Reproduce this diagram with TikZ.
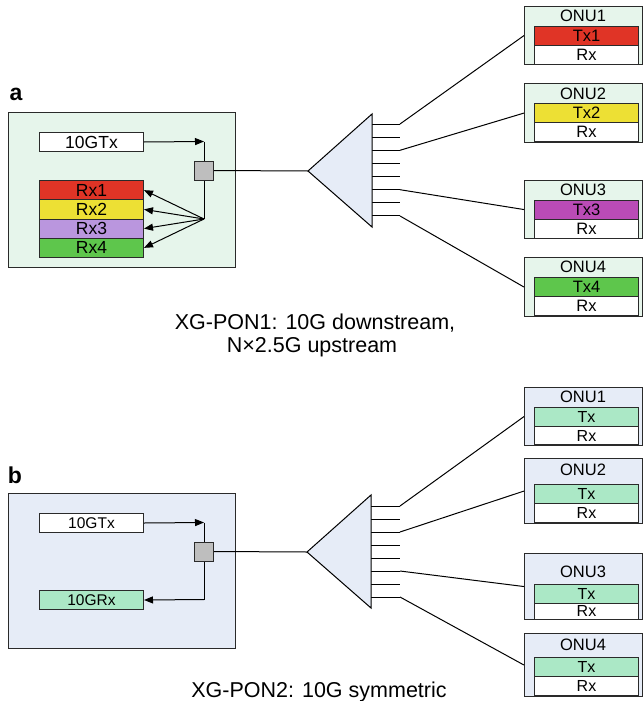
\documentclass[tikz,border=0pt]{standalone}
\usepackage{fontspec}
\setmainfont{Liberation Sans}
\usetikzlibrary{arrows.meta}
\definecolor{olta}{HTML}{E6F5EB}
\definecolor{oltb}{HTML}{E6ECF7}
\definecolor{edge}{HTML}{2A2A2A}
\definecolor{cred}{HTML}{E03426}
\definecolor{cyel}{HTML}{EDE034}
\definecolor{clav}{HTML}{BA96DE}
\definecolor{cgrn}{HTML}{5EC64C}
\definecolor{cmag}{HTML}{BA4BB6}
\definecolor{cmint}{HTML}{ABE8C6}
\definecolor{cgray}{HTML}{BEBEBE}
\tikzset{
  x=1pt, y=-1pt,
  ln/.style={line width=1pt, draw=black},
  arr/.style={ln, -{Triangle[length=9pt,width=7pt]}},
  bigbox/.style={draw=edge, line width=1.1pt, anchor=north west, inner sep=0pt},
  cell/.style={draw=edge, line width=1pt, anchor=north west, inner sep=0pt, minimum width=104pt,
     font=\fontsize{17.5}{18}\selectfont},
  cellb/.style={cell, font=\fontsize{15.5}{17}\selectfont},
  onubox/.style={draw=edge, line width=1.1pt, anchor=north west, inner sep=0pt, minimum width=118pt},
  onulab/.style={font=\fontsize{16.5}{18}\selectfont, inner sep=0pt},
  onucell/.style={cell, font=\fontsize{16.5}{18}\selectfont},
  onucellb/.style={cell, font=\fontsize{16}{17}\selectfont},
  sq/.style={draw=edge, line width=1pt, fill=cgray, minimum size=19pt, inner sep=0pt},
  split/.style={draw=black, line width=1pt, fill=oltb},
  captext/.style={font=\fontsize{21.5}{24}\selectfont, anchor=base, inner sep=0pt},
  plab/.style={font=\fontsize{23}{24}\selectfont\bfseries, anchor=base, inner sep=0pt},
}
\begin{document}
\begin{tikzpicture}
\useasboundingbox (0,0) rectangle (643,701);
% ================= panel a =================
\node[plab] (la) at (16,100) {a};
\node[bigbox, fill=olta, minimum width=227pt, minimum height=155pt] (olta) at (8,112) {};
\node[cell, fill=white, minimum height=19pt] (gtxa) at (39,132) {10GTx};
\node[cell, fill=cred, minimum height=19.25pt] (rx1) at (39,180) {Rx1};
\node[cell, fill=cyel, minimum height=19.25pt] (rx2) at (39,199.25) {Rx2};
\node[cell, fill=clav, minimum height=19.25pt] (rx3) at (39,218.5) {Rx3};
\node[cell, fill=cgrn, minimum height=19.25pt] (rx4) at (39,237.75) {Rx4};
\coordinate (ca) at (204,141.5);
\coordinate (fa) at (204,219);
\draw[ln] (ca) -- (fa);
\node[sq] (sqa) at (204,170.5) {};
\draw[arr] (gtxa.east) -- (ca);
\foreach \r in {rx1,rx2,rx3,rx4} \draw[arr] (fa) -- (\r.east);
% splitter a
\coordinate (tipa) at (308,171);
\coordinate (ta) at (372,114);
\coordinate (ba) at (372,227);
\draw[ln] (sqa.east) -- (tipa);
\foreach \i in {0,...,7} {
  \coordinate (sa\i) at (400,124+13.14*\i);
  \draw[ln] (372,124+13.14*\i) -- (sa\i);
}
\draw[split] (tipa) -- (ta) -- (ba) -- cycle;
% ONUs a
\node[onubox, fill=olta, minimum height=58pt] (oa1) at (524,6) {};
\node[onulab] (oa1l) at (583,16) {ONU1};
\node[onucell, fill=cred, minimum height=19pt] (oa1t) at (534,26) {Tx1};
\node[onucell, fill=white, minimum height=19pt] (oa1r) at (534,45) {Rx};
\node[onubox, fill=olta, minimum height=59pt] (oa2) at (524,83) {};
\node[onulab] (oa2l) at (583,94) {ONU2};
\node[onucell, fill=cyel, minimum height=19pt] (oa2t) at (534,103) {Tx2};
\node[onucell, fill=white, minimum height=19pt] (oa2r) at (534,122) {Rx};
\node[onubox, fill=olta, minimum height=58pt] (oa3) at (524,180) {};
\node[onulab] (oa3l) at (583,190) {ONU3};
\node[onucell, fill=cmag, minimum height=19.5pt] (oa3t) at (534,199.5) {Tx3};
\node[onucell, fill=white, minimum height=19pt] (oa3r) at (534,219) {Rx};
\node[onubox, fill=olta, minimum height=59pt] (oa4) at (524,257) {};
\node[onulab] (oa4l) at (583,267) {ONU4};
\node[onucell, fill=cgrn, minimum height=19pt] (oa4t) at (534,277) {Tx4};
\node[onucell, fill=white, minimum height=19pt] (oa4r) at (534,296) {Rx};
\draw[ln] (sa0) -- (oa1.west);
\draw[ln] (sa2) -- (oa2.west);
\draw[ln] (sa5) -- (oa3.west);
\draw[ln] (sa7) -- (oa4.west);
\node[captext] (capa1) at (315,329) {XG-PON1: 10G downstream,};
\node[captext] (capa2) at (312,352) {N×2.5G upstream};
% ================= panel b =================
\node[plab] (lb) at (15,483) {b};
\node[bigbox, fill=oltb, minimum width=227pt, minimum height=155pt] (oltb) at (8,493) {};
\node[cellb, fill=white, minimum height=19pt] (gtxb) at (39,513) {10GTx};
\node[cellb, fill=cmint, minimum height=19pt] (grxb) at (39,590) {10GRx};
\coordinate (cb) at (204,522.5);
\coordinate (fb) at (204,599.5);
\draw[ln] (cb) -- (fb);
\node[sq] (sqb) at (204,551.5) {};
\draw[arr] (gtxb.east) -- (cb);
\draw[arr] (fb) -- (grxb.east);
% splitter b
\coordinate (tipb) at (307,552);
\coordinate (tb) at (371,495);
\coordinate (bb) at (371,608);
\draw[ln] (sqb.east) -- (tipb);
\foreach \i in {0,...,7} {
  \coordinate (sb\i) at (400,506+13*\i);
  \draw[ln] (371,506+13*\i) -- (sb\i);
}
\draw[split] (tipb) -- (tb) -- (bb) -- cycle;
% ONUs b
\node[onubox, fill=oltb, minimum height=58pt] (ob1) at (524,387) {};
\node[onulab] (ob1l) at (583,397) {ONU1};
\node[onucellb, fill=cmint, minimum height=19pt] (ob1t) at (534,407) {Tx};
\node[onucellb, fill=white, minimum height=18pt] (ob1r) at (534,426) {Rx};
\node[onubox, fill=oltb, minimum height=65pt] (ob2) at (524,458) {};
\node[onulab] (ob2l) at (583,470) {ONU2};
\node[onucellb, fill=cmint, minimum height=19pt] (ob2t) at (534,484) {Tx};
\node[onucellb, fill=white, minimum height=19pt] (ob2r) at (534,503) {Rx};
\node[onubox, fill=oltb, minimum height=66pt] (ob3) at (524,553) {};
\node[onulab] (ob3l) at (583,572) {ONU3};
\node[onucellb, fill=cmint, minimum height=19pt] (ob3t) at (534,584) {Tx};
\node[onucellb, fill=white, minimum height=15.5pt] (ob3r) at (534,603) {Rx};
\node[onubox, fill=oltb, minimum height=63pt] (ob4) at (524,633) {};
\node[onulab] (ob4l) at (583,645) {ONU4};
\node[onucellb, fill=cmint, minimum height=19pt] (ob4t) at (534,657) {Tx};
\node[onucellb, fill=white, minimum height=19pt] (ob4r) at (534,676) {Rx};
\draw[ln] (sb0) -- (ob1.west);
\draw[ln] (sb2) -- (ob2.west);
\draw[ln] (sb5) -- (ob3.west);
\draw[ln] (sb7) -- (ob4.west);
\node[captext] (capb) at (319,697) {XG-PON2: 10G symmetric};
\end{tikzpicture}
\end{document}
